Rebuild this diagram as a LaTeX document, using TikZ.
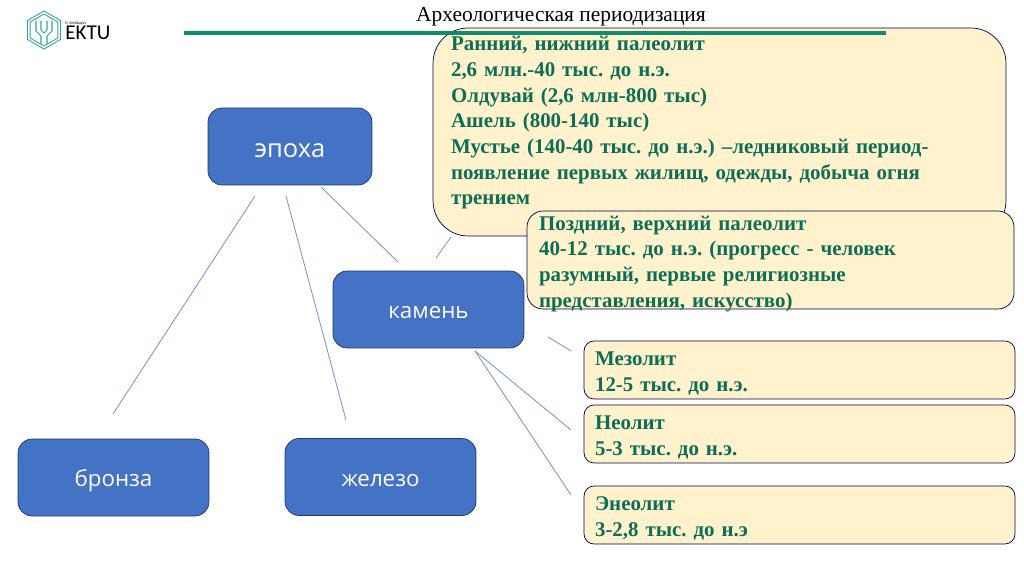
\documentclass[tikz,border=0pt]{standalone}
\usetikzlibrary{shapes.geometric}
\usepackage{fontspec}
\setmainfont{Liberation Serif}
\newfontfamily\boxfont{Open Sans}
\newfontfamily\logofont{Carlito}
\definecolor{tealbar}{HTML}{0F8B70}
\definecolor{logoteal}{HTML}{2FA796}
\definecolor{darkgreen}{HTML}{0B6E55}
\definecolor{cream}{HTML}{FFF2CC}
\definecolor{boxblue}{HTML}{4472C4}
\definecolor{boxedge}{HTML}{1F3864}
\definecolor{linkblue}{HTML}{8296CC}
\newcommand{\toppad}{\rule{0pt}{11.5pt}}
\begin{document}
\begin{tikzpicture}[x=0.02cm,y=-0.02cm]
    \tikzstyle{topic}=[draw=boxedge,fill=boxblue,rounded corners=0.28cm,text=white,font=\boxfont\fontsize{12.7}{16}\selectfont,text height=13pt,text depth=2.6pt,minimum width=3.82cm,minimum height=1.54cm]
    \tikzstyle{period}=[draw=black!75!blue,fill=cream,text=darkgreen,align=left,font=\bfseries\frenchspacing\fontsize{11.9}{14.6}\selectfont,inner ysep=0pt]
    \tikzstyle{link}=[draw=linkblue,line width=0.5pt]
    \tikzstyle{hexa}=[draw=logoteal,regular polygon,regular polygon sides=6,shape border rotate=30,inner sep=0pt]

    \useasboundingbox (0,0) rectangle (1024,574);

    % boxes on the left
    \node[topic,minimum width=3.28cm,font=\boxfont\fontsize{14.5}{16}\selectfont,text height=15.4pt] at (290,146.5) (epoch) {эпоха};
    \node[topic,text height=12.4pt] at (428.5,309.5) (stone) {камень};
    \node[topic] at (113.5,477.5) (bronze) {бронза};
    \node[topic] at (380.5,477) (iron) {железо};

    % boxes on the right
    \node[period,rounded corners=0.7cm,minimum width=11.46cm,minimum height=4.16cm,text width=10.74cm] at (719.5,132) (lower) {Ранний, нижний палеолит\\
        2,6 млн.-40 тыс. до н.э.\\
        Олдувай (2,6 млн-800 тыс)\\
        Ашель (800-140 тыс)\\
        Мустье (140-40 тыс. до н.э.) –ледниковый период-\\
        появление первых жилищ, одежды, добыча огня\\
        трением\rule[-13pt]{0pt}{0pt}};
    \node[period,rounded corners=0.32cm,inner ysep=-2.7pt,minimum width=9.74cm,minimum height=1.96cm,text width=9.26cm] at (770.5,260) (upper) {\rule{0pt}{12.3pt}Поздний, верхний палеолит\\
        40-12 тыс. до н.э. (прогресс - человек\\
        разумный, первые религиозные\\
        представления, искусство)};
    \node[period,rounded corners=0.2cm,minimum width=8.62cm,minimum height=1.16cm,text width=8.18cm] at (799.5,370) (meso) {\toppad Мезолит\\
        12-5 тыс. до н.э.};
    \node[period,rounded corners=0.2cm,minimum width=8.62cm,minimum height=1.16cm,text width=8.18cm] at (799.5,434) (neo) {\toppad Неолит\\
        5-3 тыс. до н.э.};
    \node[period,rounded corners=0.2cm,minimum width=8.62cm,minimum height=1.16cm,text width=8.18cm] at (799.5,515) (eneo) {\toppad Энеолит\\
        3-2,8 тыс. до н.э};

    % title and bar
    \node at (561,17) (title) {\fontsize{12.2}{14}\selectfont Археологическая периодизация};
    \coordinate (barl) at (184,33);
    \coordinate (barr) at (886,33);
    \draw[tealbar,line width=2pt] (barl) -- (barr);

    % logo
    \node[hexa,line width=0.5pt,minimum size=0.76cm] at (44,30) (logo) {};
    \node[hexa,line width=0.5pt,minimum size=0.64cm] at (44,30) (logoin) {};
    \draw[logoteal,line width=0.6pt] (36,21) -- (36,31) -- (41,36) -- (41,44);
    \draw[logoteal,line width=0.6pt] (52,21) -- (52,31) -- (47,36) -- (47,44);
    \draw[logoteal,line width=0.6pt] (41,21) -- (41,30) -- (44,33) -- (47,30) -- (47,21);
    \node[anchor=west,inner sep=0pt] at (65,33) (ektu) {\logofont\fontsize{12}{14}\selectfont EKTU};
    \node[anchor=west,inner sep=0pt] at (65,23) (sign) {\logofont\fontsize{2.2}{3}\selectfont D. Serikbayev};

    % free ends of the links
    \coordinate (ea) at (255,196);
    \coordinate (eb) at (113,414);
    \coordinate (ec) at (286,196);
    \coordinate (ed) at (346,420);
    \coordinate (ee) at (321,187);
    \coordinate (ef) at (398,262);
    \coordinate (eg) at (451,237);
    \coordinate (eh) at (436,258);
    \coordinate (ei) at (548,337);
    \coordinate (ej) at (571,351);
    \coordinate (ek) at (475,351);
    \coordinate (el) at (571,430);
    \coordinate (em) at (571,495);

    \draw[link] (ea) -- (eb);
    \draw[link] (ec) -- (ed);
    \draw[link] (ee) -- (ef);
    \draw[link] (eg) -- (eh);
    \draw[link] (ei) -- (ej);
    \draw[link] (ek) -- (el);
    \draw[link] (ek) -- (em);
\end{tikzpicture}
\end{document}
